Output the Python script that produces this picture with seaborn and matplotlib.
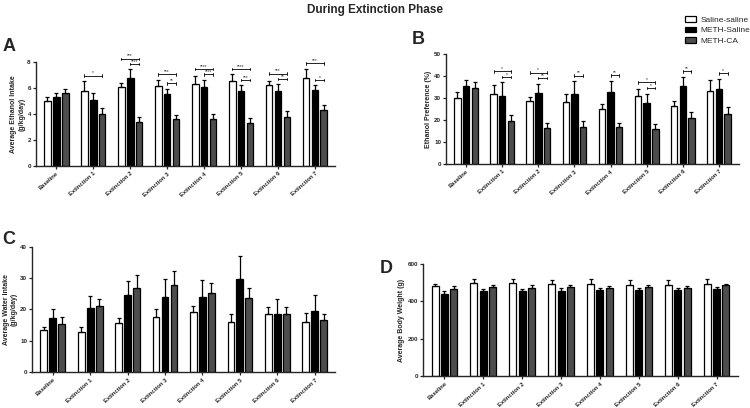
import numpy as np
import pandas as pd
import seaborn as sns
import matplotlib.pyplot as plt
from matplotlib.patches import Patch

sns.set_style('ticks')
plt.rcParams['font.family'] = ['Liberation Sans', 'DejaVu Sans']

sessions = ['Baseline'] + ['Extinction %d' % i for i in range(1, 8)]
groups = ['Saline-saline', 'METH-Saline', 'METH-CA']
colors = ['white', 'black', '#4d4d4d']

# A - ethanol intake (g/kg/day), mean and SEM per group
intake_ss = [5.0, 5.8, 6.05, 6.15, 6.3, 6.55, 6.25, 6.8]
intake_ms = [5.3, 5.05, 6.75, 5.55, 6.1, 5.75, 5.75, 5.85]
intake_mc = [5.65, 4.0, 3.4, 3.6, 3.6, 3.3, 3.8, 4.3]
intake_ss_err = [0.3, 0.75, 0.3, 0.5, 0.6, 0.5, 0.3, 0.7]
intake_ms_err = [0.35, 0.55, 0.7, 0.4, 0.55, 0.45, 0.55, 0.35]
intake_mc_err = [0.3, 0.5, 0.4, 0.35, 0.4, 0.4, 0.4, 0.4]
intake_sig = [(1, 'wg', '*'), (2, 'wg', '***'), (2, 'bg', '****'),
              (3, 'wg', '***'), (3, 'bg', '**'), (4, 'wg', '****'), (4, 'bg', '****'),
              (5, 'wg', '****'), (5, 'bg', '***'), (6, 'wg', '***'), (6, 'bg', '**'),
              (7, 'wg', '***'), (7, 'bg', '*')]

# B - ethanol preference (%)
pref_ss = [29.8, 32.0, 28.5, 28.0, 25.0, 30.7, 26.3, 33.2]
pref_ms = [35.5, 31.0, 32.3, 31.8, 32.6, 27.7, 35.6, 34.2]
pref_mc = [34.5, 19.3, 16.3, 16.9, 16.6, 15.8, 21.0, 22.5]
pref_ss_err = [3.0, 3.7, 2.0, 4.0, 2.3, 3.3, 2.5, 4.8]
pref_ms_err = [2.7, 6.0, 4.2, 5.8, 5.2, 4.3, 4.0, 4.5]
pref_mc_err = [2.7, 2.8, 2.2, 2.5, 2.2, 2.3, 2.5, 3.2]
pref_sig = [(1, 'wg', '*'), (1, 'bg', '*'), (2, 'wg', '*'), (2, 'bg', '**'),
            (3, 'bg', '**'), (4, 'bg', '**'), (5, 'wg', '*'), (5, 'bg', '*'),
            (6, 'bg', '**'), (7, 'bg', '*')]

# C - water intake (g/kg/day)
water_ss = [13.5, 12.7, 15.6, 17.5, 19.2, 16.0, 18.4, 16.0]
water_ms = [17.3, 20.4, 24.5, 23.9, 24.1, 29.7, 18.4, 19.6]
water_mc = [15.4, 21.1, 26.8, 27.7, 25.4, 23.7, 18.7, 16.6]
water_ss_err = [1.0, 1.7, 1.7, 2.7, 1.8, 2.7, 2.3, 3.0]
water_ms_err = [3.0, 3.8, 4.5, 5.8, 5.3, 7.3, 4.8, 5.0]
water_mc_err = [2.2, 2.3, 4.2, 4.6, 3.2, 3.1, 2.1, 2.0]

# D - body weight (g)
weight_ss = [480, 497, 497, 495, 492, 488, 490, 492]
weight_ms = [440, 453, 453, 457, 460, 460, 462, 465]
weight_mc = [468, 475, 473, 475, 472, 478, 472, 485]
weight_ss_err = [15, 20, 20, 20, 25, 25, 25, 28]
weight_ms_err = [15, 12, 12, 12, 12, 12, 12, 10]
weight_mc_err = [12, 10, 12, 10, 12, 12, 12, 10]


def draw_panel(ax, means, errs, ymax, ystep, ylabel, sig=()):
    df = pd.DataFrame({'session': sessions * 3,
                       'group': np.repeat(groups, len(sessions)),
                       'value': np.concatenate(means)})
    sns.barplot(data=df, x='session', y='value', hue='group', hue_order=groups,
                palette=colors, edgecolor='black', linewidth=0.9, width=0.72,
                gap=0.25, errorbar=None, legend=False, ax=ax)
    bars = list(ax.containers)
    centers = []
    for i, cont in enumerate(bars):
        xs = [p.get_x() + p.get_width() / 2 for p in cont]
        centers.append(xs)
        ax.errorbar(xs, means[i], yerr=[np.zeros(len(xs)), errs[i]], fmt='none',
                    ecolor='black', elinewidth=0.9, capsize=1.6, capthick=0.9)
    pad = 0.05 * ymax
    h = 0.012 * ymax
    for k, pair, label in sig:
        tops = [means[g][k] + errs[g][k] for g in range(3)]
        lower = max(tops[1], tops[2]) + pad
        has_bg = any(s[0] == k and s[1] == 'bg' for s in sig)
        if pair == 'bg':
            y, a = lower, 1
        else:
            y = max(tops[0], tops[1], lower if has_bg else 0) + pad
            a = 0
        x1, x2 = centers[a][k], centers[2][k]
        ax.plot([x1, x2], [y, y], color='black', lw=0.6, clip_on=False)
        ax.plot([x1, x1], [y - h, y + h], color='black', lw=0.6, clip_on=False)
        ax.plot([x2, x2], [y - h, y + h], color='black', lw=0.6, clip_on=False)
        ax.text((x1 + x2) / 2, y + h * 0.3, label, ha='center', va='bottom', fontsize=3.5)
    ax.set_ylim(0, ymax)
    ax.set_yticks(np.arange(0, ymax + ystep / 2, ystep))
    ax.set_xlim(-0.55, len(sessions) - 0.45)
    ax.set_xlabel('')
    ax.set_ylabel(ylabel, fontsize=5, fontweight='bold', labelpad=1.5, linespacing=1.15)
    sns.despine(ax=ax)
    for sp in ['left', 'bottom']:
        ax.spines[sp].set_linewidth(1.0)
    ax.tick_params(length=2.2, width=0.9, pad=1.5, labelsize=4.5)
    plt.setp(ax.get_yticklabels(), fontweight='bold')
    plt.setp(ax.get_xticklabels(), rotation=42, ha='right', rotation_mode='anchor',
             fontweight='bold', fontsize=4.2)


fig = plt.figure(figsize=(7.5, 4.08), dpi=100)
axA = fig.add_axes([0.048, 0.593, 0.399, 0.255])
axB = fig.add_axes([0.595, 0.598, 0.390, 0.270])
axC = fig.add_axes([0.043, 0.088, 0.404, 0.307])
axD = fig.add_axes([0.564, 0.078, 0.420, 0.275])

draw_panel(axA, [intake_ss, intake_ms, intake_mc],
           [intake_ss_err, intake_ms_err, intake_mc_err], 8, 2,
           'Average Ethanol Intake\n(g/kg/day)', intake_sig)
draw_panel(axB, [pref_ss, pref_ms, pref_mc],
           [pref_ss_err, pref_ms_err, pref_mc_err], 50, 10,
           'Ethanol Preference (%)', pref_sig)
draw_panel(axC, [water_ss, water_ms, water_mc],
           [water_ss_err, water_ms_err, water_mc_err], 40, 10,
           'Average Water Intake\n(g/kg/day)')
draw_panel(axD, [weight_ss, weight_ms, weight_mc],
           [weight_ss_err, weight_ms_err, weight_mc_err], 600, 200,
           'Average Body Weight (g)')

fig.text(0.5, 0.99, 'During Extinction Phase', ha='center', va='top',
         fontsize=8.5, fontweight='bold')
for letter, x, y in [('A', 0.003, 0.885), ('B', 0.549, 0.904), ('C', 0.003, 0.412), ('D', 0.506, 0.343)]:
    fig.text(x, y, letter, fontsize=13, fontweight='bold', va='center')

handles = [Patch(facecolor=c, edgecolor='black', linewidth=0.9) for c in colors]
fig.legend(handles, groups, loc='upper left', bbox_to_anchor=(0.913, 0.96),
           frameon=False, fontsize=6, handlelength=1.3, handleheight=0.6,
           handletextpad=0.6, labelspacing=0.35, borderaxespad=0, borderpad=0)

fig.savefig('out.png', dpi=100)
